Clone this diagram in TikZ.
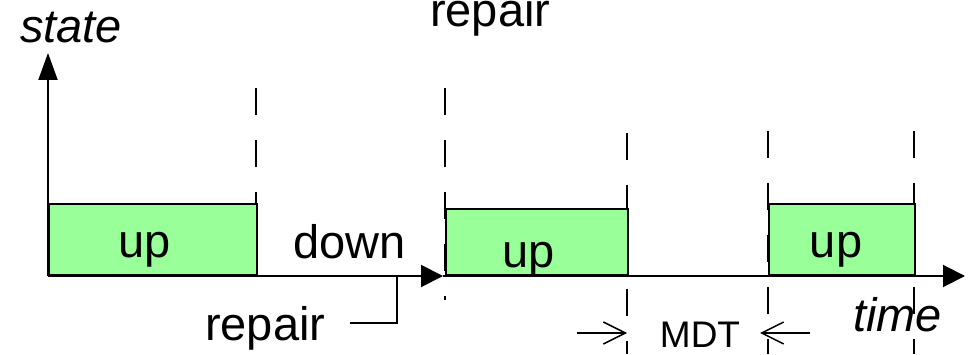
\documentclass[tikz,border=0pt]{standalone}
\usepackage{fontspec}
\setmainfont{Liberation Sans}
\usetikzlibrary{arrows.meta}
\definecolor{UpGreen}{RGB}{153,255,153}

\begin{document}
\begin{tikzpicture}[
  x=1pt,y=1pt,
  lbl/.style={font=\fontsize{47}{56}\selectfont,inner sep=0pt,anchor=base},
  small/.style={font=\fontsize{37}{44}\selectfont,inner sep=0pt,anchor=base},
  upbox/.style={draw=black,fill=UpGreen,line width=2pt,anchor=south west,inner sep=0pt},
  axis/.style={line width=2pt,-{Triangle[length=22pt,width=22pt]}},
  cut/.style={line width=2pt,dash pattern=on 27pt off 25pt},
  mdt/.style={line width=1.5pt,-{Straight Barb[length=22pt,width=22pt]}}
]
\useasboundingbox (0,0) rectangle (972,354);
% axes
\coordinate (origin) at (48,78);
\coordinate (stop) at (443,78);
\coordinate (tend) at (965,78);
\coordinate (stop2) at (48,301);
% dashed markers
\foreach \x/\top/\bot in {256/266/78, 445/266/54, 627/221/0, 768/223/0, 914/223/0}
  \draw[cut] (\x,\top) -- (\x,\bot);
% up periods
\node[upbox,minimum width=208pt,minimum height=71pt] (box1) at (48,78) {};
\node[upbox,minimum width=182pt,minimum height=66pt] (box2) at (445,78) {};
\node[upbox,minimum width=146pt,minimum height=71pt] (box3) at (768,78) {};
\draw[axis] (origin) -- (stop);
\draw[axis] (stop) -- (tend);
\draw[line width=2pt,-{Triangle[length=27pt,width=19pt]}] (origin) -- (stop2);
% labels
\node[lbl,anchor=base west] (state) at (20,311) {\itshape state};
\node[lbl,anchor=base west] (reptop) at (430,327) {repair};
\node[lbl] (up1) at (145,97) {up};
\node[lbl,anchor=base west] (down) at (293,96) {down};
\node[lbl] (up2) at (529,87) {up};
\node[lbl] (up3) at (836,97) {up};
\node[lbl,anchor=base west] (repbot) at (205,14) {repair};
\node[lbl,anchor=base west] (time) at (853,23) {\itshape time};
\node[small] (mdtlbl) at (700,7) {MDT};
% repair leader
\coordinate (lead) at (350,31);
\coordinate (hit) at (397,78);
\draw[line width=2pt] (lead) -| (hit);
% MDT arrows
\coordinate (mdtl) at (577,21);
\coordinate (mdtr) at (810,21);
\draw[mdt] (mdtl) -- (627,21);
\draw[mdt] (mdtr) -- (760,21);
\end{tikzpicture}
\end{document}
